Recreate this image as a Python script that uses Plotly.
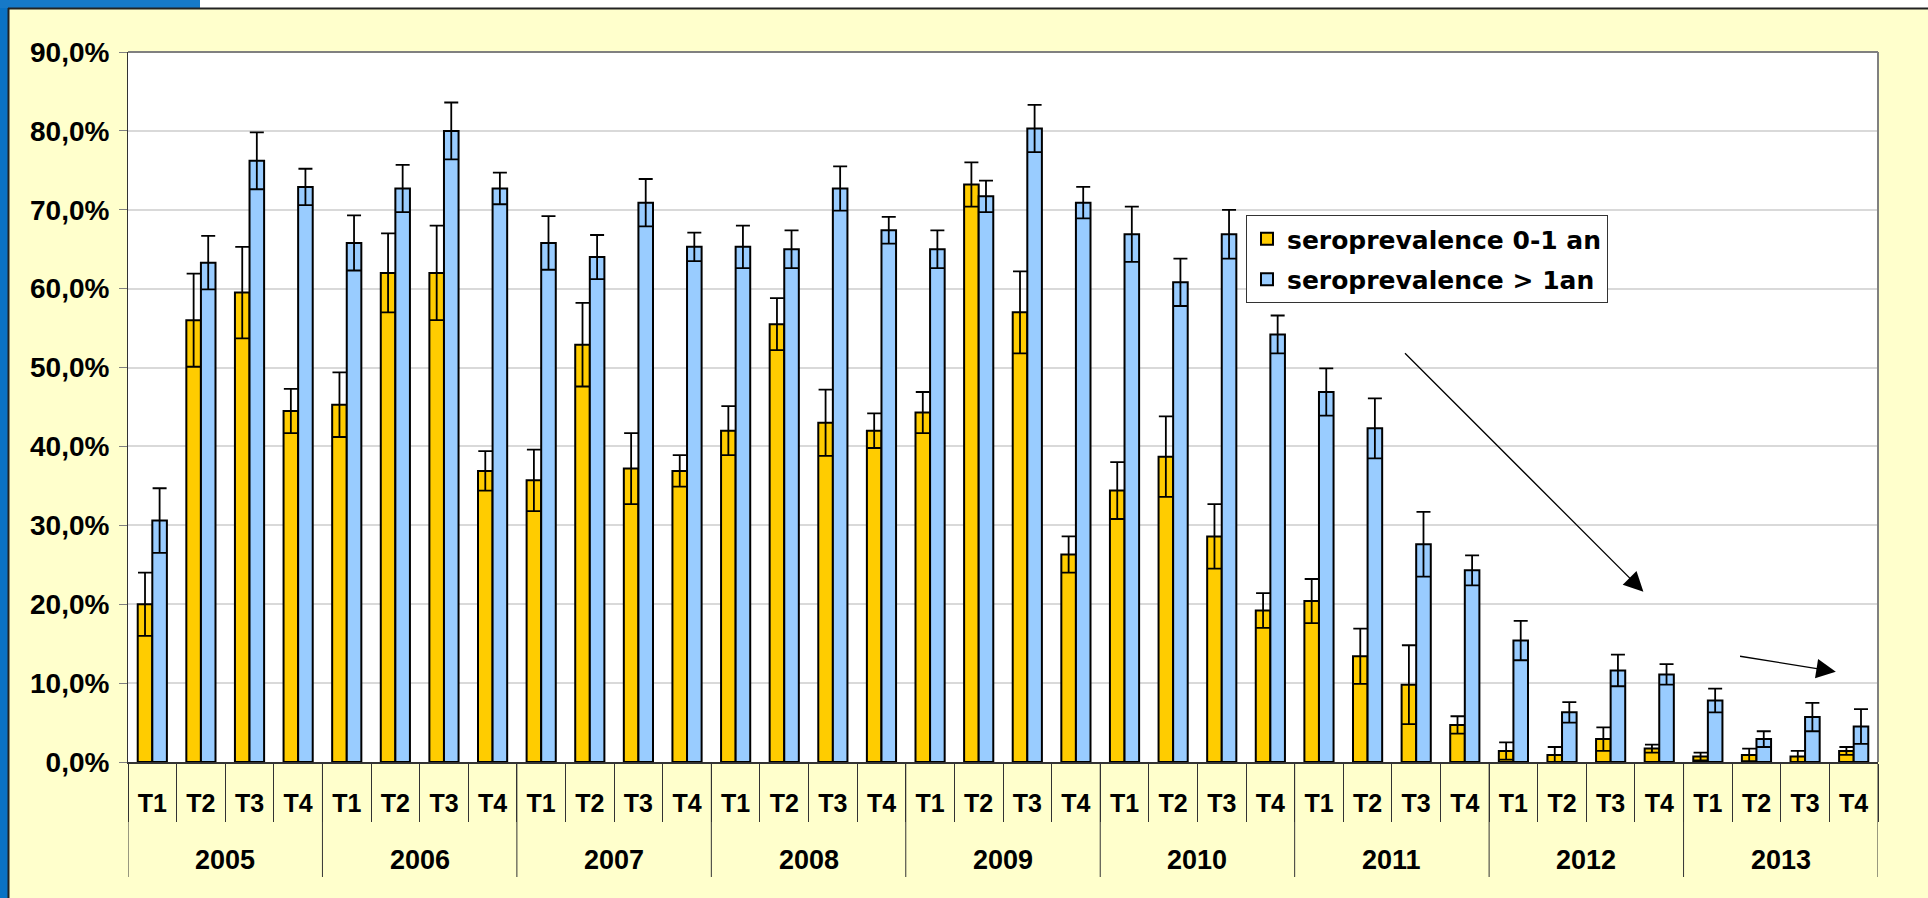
import plotly.graph_objects as go

# ---------------- data ----------------
years = ["2005", "2006", "2007", "2008", "2009", "2010", "2011", "2012", "2013"]
quarters = ["T1", "T2", "T3", "T4"]

sero_0_1 = [20.0, 56.0, 59.5, 44.5,
            45.3, 62.0, 62.0, 36.9,
            35.7, 52.9, 37.2, 36.9,
            42.0, 55.5, 43.0, 42.0,
            44.3, 73.2, 57.0, 26.3,
            34.4, 38.7, 28.6, 19.2,
            20.4, 13.4, 9.8, 4.7,
            1.4, 0.9, 2.9, 1.7,
            0.7, 0.9, 0.7, 1.4]
err_0_1 = [4.0, 5.9, 5.8, 2.8,
           4.1, 5.0, 6.0, 2.5,
           3.9, 5.3, 4.5, 2.0,
           3.1, 3.3, 4.2, 2.2,
           2.6, 2.8, 5.2, 2.3,
           3.6, 5.1, 4.1, 2.2,
           2.8, 3.5, 5.0, 1.1,
           1.1, 1.0, 1.5, 0.5,
           0.5, 0.8, 0.7, 0.5]
sero_gt1 = [30.6, 63.3, 76.2, 72.9,
            65.8, 72.7, 80.0, 72.7,
            65.8, 64.0, 70.9, 65.3,
            65.3, 65.0, 72.7, 67.4,
            65.0, 71.7, 80.3, 70.9,
            66.9, 60.8, 66.9, 54.2,
            46.9, 42.3, 27.6, 24.3,
            15.4, 6.3, 11.6, 11.1,
            7.8, 2.9, 5.7, 4.5]
err_gt1 = [4.1, 3.4, 3.6, 2.3,
           3.5, 3.0, 3.6, 2.0,
           3.4, 2.8, 3.0, 1.8,
           2.7, 2.4, 2.8, 1.7,
           2.4, 2.0, 3.0, 2.0,
           3.5, 3.0, 3.1, 2.4,
           3.0, 3.8, 4.1, 1.9,
           2.5, 1.3, 2.0, 1.3,
           1.5, 1.0, 1.8, 2.2]

series_names = ["seroprevalence 0-1 an", "seroprevalence > 1an"]
y_ticks = [0, 10, 20, 30, 40, 50, 60, 70, 80, 90]
y_tick_text = [f"{v:.1f}".replace(".", ",") + "%" for v in y_ticks]

categories = [f"{y} {q}" for y in years for q in quarters]
tick_text = [q for y in years for q in quarters]

# ---------------- layout helpers (decoration only) ----------------
W, H = 1928, 898
ML, MR, MT, MB = 128, 50, 52, 136
PW, PH = W - ML - MR, H - MT - MB


def fx(p):
    return (p - ML) / PW


def fy(p):
    return (H - MB - p) / PH


FONT = "Arial, Liberation Sans, sans-serif"
YELLOW = "#FFCC00"
BLUE = "#99CCFF"

fig = go.Figure()
fig.add_trace(go.Bar(
    x=categories, y=sero_0_1, name=series_names[0], legendgroup="a",
    marker=dict(color=YELLOW, line=dict(color="black", width=2)),
    error_y=dict(type="data", array=err_0_1, color="black", thickness=1.8, width=7),
))
fig.add_trace(go.Bar(
    x=categories, y=sero_gt1, name=series_names[1], legendgroup="b",
    marker=dict(color=BLUE, line=dict(color="black", width=2)),
    error_y=dict(type="data", array=err_gt1, color="black", thickness=1.8, width=7),
))

shapes = []
# slide background strips (blue on the left/top)
shapes.append(dict(type="rect", xref="paper", yref="paper", x0=fx(0), x1=fx(8), y0=fy(H), y1=fy(0),
                   fillcolor="#0A72C4", line=dict(width=0), layer="below"))
shapes.append(dict(type="rect", xref="paper", yref="paper", x0=fx(0), x1=fx(200), y0=fy(8), y1=fy(0),
                   fillcolor="#1679C8", line=dict(width=0), layer="below"))
shapes.append(dict(type="rect", xref="paper", yref="paper", x0=fx(200), x1=fx(W), y0=fy(8), y1=fy(0),
                   fillcolor="white", line=dict(width=0), layer="below"))
shapes.append(dict(type="line", xref="paper", yref="paper", x0=fx(8), x1=fx(W), y0=fy(8.5), y1=fy(8.5),
                   line=dict(color="#222222", width=2), layer="below"))
shapes.append(dict(type="line", xref="paper", yref="paper", x0=fx(8.5), x1=fx(8.5), y0=fy(8), y1=fy(H),
                   line=dict(color="#222222", width=2), layer="below"))
# plot-area border (top and right, grey)
shapes.append(dict(type="line", xref="paper", yref="paper", x0=0, x1=1, y0=1, y1=1,
                   line=dict(color="#808080", width=2)))
shapes.append(dict(type="line", xref="paper", yref="paper", x0=1, x1=1, y0=0, y1=1,
                   line=dict(color="#808080", width=2)))
# year dividers below the axis
for k in range(len(years) + 1):
    shapes.append(dict(type="line", xref="x", yref="paper",
                       x0=k * len(quarters) - 0.5, x1=k * len(quarters) - 0.5,
                       y0=0, y1=fy(877), line=dict(color="#333333", width=1)))

annotations = []
for k, yr in enumerate(years):
    annotations.append(dict(x=k * len(quarters) + (len(quarters) - 1) / 2, y=fy(860),
                            xref="x", yref="paper", text=yr, showarrow=False,
                            yanchor="middle", xanchor="center",
                            font=dict(family=FONT, size=27, color="black", weight="bold")))

# trend arrows
for (x0, y0, x1, y1) in [(1403.5, 351.7, 1643.4, 591.7), (1738.5, 656, 1835.8, 671.7)]:
    annotations.append(dict(x=fx(x1), y=fy(y1), ax=fx(x0), ay=fy(y0),
                            xref="x domain", yref="y domain", axref="x domain", ayref="y domain",
                            text="", showarrow=True, arrowhead=2, arrowsize=3,
                            arrowwidth=1.3, arrowcolor="black"))

fig.update_layout(
    width=W, height=H,
    margin=dict(l=ML, r=MR, t=MT, b=MB, pad=0),
    paper_bgcolor="#FFFFCC",
    plot_bgcolor="white",
    barmode="group", bargap=0.4, bargroupgap=0,
    showlegend=True,
    legend=dict(x=fx(1246), y=fy(215), xanchor="left", yanchor="top",
                bgcolor="white", bordercolor="#333333", borderwidth=1,
                font=dict(family="DejaVu Sans, sans-serif", size=25, color="black", weight="bold"),
                tracegroupgap=5, itemwidth=30, traceorder="grouped"),
    shapes=shapes,
    annotations=annotations,
    font=dict(family=FONT, color="black"),
)

fig.update_xaxes(
    type="category", range=[-0.5, len(categories) - 0.5],
    tickmode="array", tickvals=categories, ticktext=tick_text,
    ticks="outside", tickson="boundaries", ticklen=58, tickwidth=1, tickcolor="#333333",
    ticklabelstandoff=18,
    tickfont=dict(family=FONT, size=25, color="black", weight="bold"),
    showline=True, linecolor="#333333", linewidth=2,
    showgrid=False, automargin=False, zeroline=False,
)
fig.update_yaxes(
    range=[0, 90], tickmode="array", tickvals=y_ticks, ticktext=y_tick_text,
    ticks="outside", ticklen=8, tickwidth=1, tickcolor="#808080",
    ticklabelstandoff=4,
    tickfont=dict(family=FONT, size=28, color="black", weight="bold"),
    showline=True, linecolor="#333333", linewidth=1,
    showgrid=True, gridcolor="#D9D9D9", gridwidth=2,
    zeroline=False, automargin=False,
)

fig.write_html("out.html", config={"displayModeBar": False},
               post_script="document.body.style.margin='0';document.body.style.overflow='hidden';")
